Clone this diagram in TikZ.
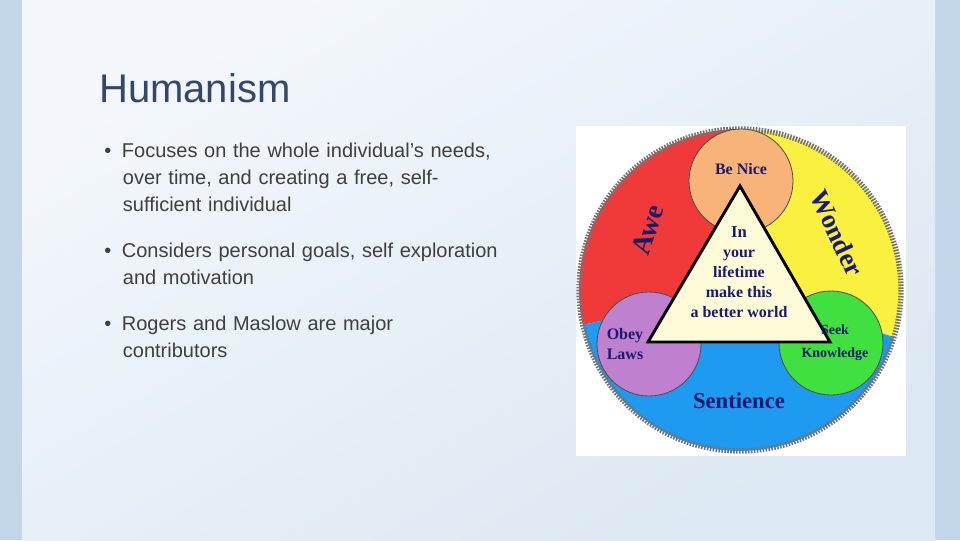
\documentclass[tikz,border=0pt]{standalone}
\usepackage{fontspec}
\setmainfont{Liberation Sans}
\newfontfamily\fancy{Liberation Serif}
\usetikzlibrary{shadings}
\definecolor{bgA}{HTML}{DCE8F3}
\definecolor{bgB}{HTML}{F3F7FB}
\definecolor{barc}{HTML}{C3D6E9}
\definecolor{titlec}{HTML}{34466A}
\definecolor{textc}{HTML}{3F3F3F}
\definecolor{navy}{HTML}{1A1A6E}
\definecolor{redc}{HTML}{F03A3A}
\definecolor{yelc}{HTML}{FAF040}
\definecolor{bluc}{HTML}{1E9AF0}
\definecolor{orc}{HTML}{F8B478}
\definecolor{purc}{HTML}{C080D0}
\definecolor{grc}{HTML}{40E040}
\definecolor{crm}{HTML}{FDFBD8}
\tikzset{bul/.style={anchor=north west,text width=460pt,align=left,font=\fontsize{15}{20}\selectfont,text=textc,inner sep=0pt},
cl/.style={font=\fancy\bfseries\fontsize{12}{15}\selectfont,text=navy,align=center,inner sep=0pt},
sm/.style={draw=black!70,line width=0.6pt,circle,minimum size=78pt}}
\begin{document}
\begin{tikzpicture}[x=0.75pt,y=-0.75pt]
\useasboundingbox (0,0) rectangle (960,540);
\fill[barc] (0,0) rectangle (960,540);
\shade[top color=bgB,bottom color=bgA,shading angle=30] (22,0) rectangle (935,540);
\node[anchor=west,text=titlec,font=\fontsize{30}{36}\selectfont,inner sep=0pt] (title) at (99,88) {Humanism};
\node[bul] (b1) at (104,143) {•\hspace{8pt}Focuses on the whole individual’s needs,\\\hspace{14pt}over time, and creating a free, self-\\\hspace{14pt}sufficient individual};
\node[bul] (b2) at (104,243) {•\hspace{8pt}Considers personal goals, self exploration\\\hspace{14pt}and motivation};
\node[bul] (b3) at (104,316) {•\hspace{8pt}Rogers and Maslow are major\\\hspace{14pt}contributors};
\fill[white] (576,126) rectangle (906,456);
\coordinate (c) at (740,290);
\begin{scope}
\clip (c) circle[radius=161];
\fill[redc] (c) -- (740,100) -- (560,100) -- (560,330) -- cycle;
\fill[yelc] (c) -- (740,100) -- (920,100) -- (920,345) -- cycle;
\fill[bluc] (c) -- (560,330) -- (560,470) -- (920,470) -- (920,345) -- cycle;
\end{scope}
\draw[black!55,line width=4pt,dash pattern=on 1.2pt off 1pt] (c) circle[radius=161];
\node[sm,fill=orc] (nice) at (741,181) {};
\node[sm,fill=purc] (obey) at (649,344) {};
\node[sm,fill=grc] (seek) at (831,343) {};
\coordinate (ta) at (740,186);
\coordinate (tl) at (648,342);
\coordinate (tr) at (830,342);
\draw[fill=crm,line width=2.2pt,line join=miter] (ta) -- (tl) -- (tr) -- cycle;
\node[cl] (t1) at (741,169) {Be Nice};
\node[cl] (t2) at (739,272) {\fontsize{12.5}{21.5}\selectfont In\\your\\lifetime\\make this\\a better world};
\node[cl] (t3) at (625,344) {Obey\\Laws};
\node[cl,font=\fancy\bfseries\fontsize{10.5}{17}\selectfont] (t4) at (835,343) {Seek\\Knowledge};
\node[cl,rotate=72,font=\fancy\bfseries\fontsize{21}{24}\selectfont] (awe) at (648,230) {Awe};
\node[cl,rotate=-65,font=\fancy\bfseries\fontsize{20}{24}\selectfont] (won) at (837,233) {Wonder};
\node[cl,font=\fancy\bfseries\fontsize{17}{20}\selectfont] (sen) at (739,401) {Sentience};
\end{tikzpicture}
\end{document}
